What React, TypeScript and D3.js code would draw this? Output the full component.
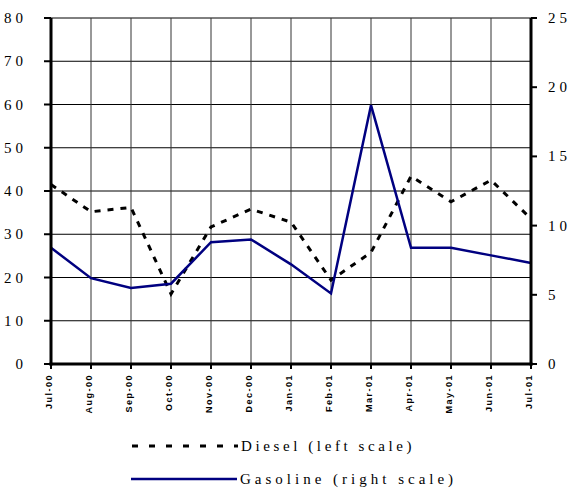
import React from "react";
import * as d3 from "d3";

const months = ["Jul-00", "Aug-00", "Sep-00", "Oct-00", "Nov-00", "Dec-00", "Jan-01", "Feb-01", "Mar-01", "Apr-01", "May-01", "Jun-01", "Jul-01"];
const diesel = [41.5, 35.2, 36.2, 16.2, 31.7, 35.8, 32.8, 19.4, 25.8, 43.4, 37.5, 42.5, 33.6];
const gasoline = [8.4, 6.2, 5.5, 5.8, 8.8, 9.0, 7.2, 5.1, 18.7, 8.4, 8.4, 7.85, 7.3];
const leftTicks = [0, 10, 20, 30, 40, 50, 60, 70, 80];
const rightTicks = [0, 5, 10, 15, 20, 25];

const W = 584, H = 496;
const L = 51, R = 531, T = 18, B = 364;

export default function App() {
  const x = d3.scalePoint<string>().domain(months).range([L, R]);
  const yL = d3.scaleLinear().domain([0, 80]).range([B, T]);
  const yR = d3.scaleLinear().domain([0, 25]).range([B, T]);
  const lineL = d3.line<number>().x((_, i) => x(months[i])!).y((d) => yL(d));
  const lineR = d3.line<number>().x((_, i) => x(months[i])!).y((d) => yR(d));
  const serif: React.CSSProperties = { fontFamily: '"Liberation Serif", "DejaVu Serif", serif' };
  return (
    <svg width={W} height={H} style={{ position: "absolute", left: 0, top: 0, background: "#fff" }}>
      {/* grid */}
      {leftTicks.filter((t) => t > 0).map((t) => (
        <line key={"h" + t} x1={L} x2={R} y1={yL(t)} y2={yL(t)} stroke="#000" strokeWidth={1} />
      ))}
      {months.map((m) => (
        <line key={"v" + m} x1={x(m)} x2={x(m)} y1={T} y2={B} stroke="#333" strokeWidth={1} />
      ))}
      {/* series */}
      <path d={lineL(diesel)!} fill="none" stroke="#000" strokeWidth={3} strokeDasharray="6,7" />
      <path d={lineR(gasoline)!} fill="none" stroke="#000080" strokeWidth={2.5} strokeLinejoin="miter" />
      {/* axes */}
      <line x1={L} x2={L} y1={T} y2={B + 1.5} stroke="#000" strokeWidth={3} />
      <line x1={R} x2={R} y1={T} y2={B + 1.5} stroke="#000" strokeWidth={3} />
      <line x1={L - 1.5} x2={R + 1.5} y1={B} y2={B} stroke="#000" strokeWidth={3} />
      {leftTicks.map((t) => (
        <g key={"lt" + t}>
          <line x1={L - 7} x2={L} y1={yL(t)} y2={yL(t)} stroke="#000" strokeWidth={2} />
          <text x={27} y={yL(t) + 5} textAnchor="end" style={serif} fontSize={15} letterSpacing={4}>
            {t}
          </text>
        </g>
      ))}
      {rightTicks.map((t) => (
        <g key={"rt" + t}>
          <line x1={R} x2={R + 6} y1={yR(t)} y2={yR(t)} stroke="#000" strokeWidth={2} />
          <text x={548} y={yR(t) + 5} textAnchor="start" style={serif} fontSize={15} letterSpacing={4}>
            {t}
          </text>
        </g>
      ))}
      {months.map((m) => (
        <g key={"xt" + m}>
          <line x1={x(m)} x2={x(m)} y1={B} y2={B + 5} stroke="#000" strokeWidth={2} />
          <text transform={`translate(${x(m)! + 0.5},${B + 10}) rotate(-90)`} textAnchor="end" style={{ fontFamily: '"Liberation Sans", Arial, sans-serif' }} fontWeight="bold" fontSize={9} letterSpacing={1.5}>
            {m}
          </text>
        </g>
      ))}
      {/* legend */}
      <line x1={132} x2={238} y1={446} y2={446} stroke="#000" strokeWidth={3} strokeDasharray="6,11" />
      <text x={241} y={451} style={serif} fontSize={15} letterSpacing={3.6}>Diesel (left scale)</text>
      <line x1={131} x2={237} y1={479} y2={479} stroke="#000080" strokeWidth={2.5} />
      <text x={240} y={484} style={serif} fontSize={15} letterSpacing={4}>Gasoline (right scale)</text>
    </svg>
  );
}
